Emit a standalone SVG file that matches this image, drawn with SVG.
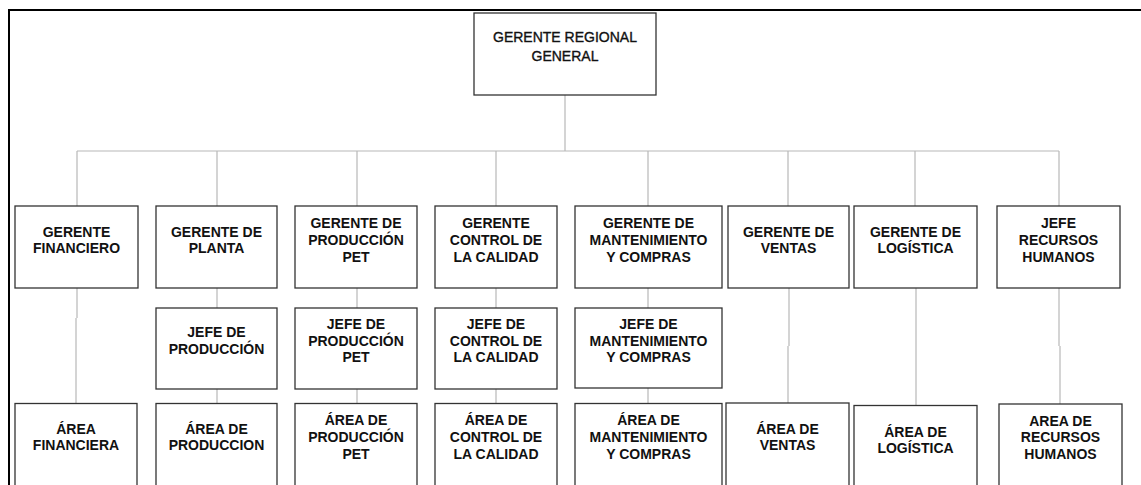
<svg xmlns="http://www.w3.org/2000/svg" width="1141" height="485" viewBox="0 0 1141 485">
<style>
.bg{fill:#ffffff}
.frame{fill:none;stroke:#000;stroke-width:2}
.box{fill:#ffffff;stroke:#333;stroke-width:1.3}
.con{fill:none;stroke:#b8b8b8;stroke-width:1.2}
.t{font-family:"Liberation Sans",Arial,sans-serif;font-size:14px;font-weight:bold;fill:#111;text-anchor:middle}
.top{font-weight:normal;stroke:#111;stroke-width:0.35}
</style>
<rect class="bg" x="0" y="0" width="1141" height="485"/>
<path class="frame" d="M9,485 V10 H1141"/>

<g id="connectors">
  <path class="con" d="M565,95 V151"/>
  <path class="con" d="M77,151 H1059"/>
  <path class="con" d="M77,151 V206 M217,151 V206 M357,151 V206 M496,151 V206 M648,151 V206 M788,151 V206 M915,151 V206 M1059,151 V206"/>
  <path class="con" d="M77,288 V318 M76,318 V403.5"/>
  <path class="con" d="M217,288 V308 M217,389 V403.5"/>
  <path class="con" d="M357,288 V308 M357,389 V403.5"/>
  <path class="con" d="M496,288 V308 M496,389 V403.5"/>
  <path class="con" d="M648,288 V308 M648,388 V403.5"/>
  <path class="con" d="M789,288 V346 M788,346 V403"/>
  <path class="con" d="M916,288 V405.5"/>
  <path class="con" d="M1059,288 V346 M1060,346 V404"/>
</g>

<g id="n-gerente-regional">
  <rect class="box" x="474" y="13" width="182" height="82"/>
  <text class="t top" x="565" y="41.5">GERENTE REGIONAL</text>
  <text class="t top" x="565" y="60.5">GENERAL</text>
</g>

<g id="n-gerente-financiero">
  <rect class="box" x="15" y="206" width="123" height="82"/>
  <text class="t" x="76.5" y="236.6">GERENTE</text>
  <text class="t" x="76.5" y="253.3">FINANCIERO</text>
</g>
<g id="n-gerente-planta">
  <rect class="box" x="156" y="206" width="121" height="82"/>
  <text class="t" x="216.5" y="236.6">GERENTE DE</text>
  <text class="t" x="216.5" y="253.3">PLANTA</text>
</g>
<g id="n-gerente-produccion-pet">
  <rect class="box" x="295" y="206" width="122" height="82"/>
  <text class="t" x="356" y="228.3">GERENTE DE</text>
  <text class="t" x="356" y="245">PRODUCCIÓN</text>
  <text class="t" x="356" y="261.7">PET</text>
</g>
<g id="n-gerente-control-calidad">
  <rect class="box" x="435" y="206" width="122" height="82"/>
  <text class="t" x="496" y="228.3">GERENTE</text>
  <text class="t" x="496" y="245">CONTROL DE</text>
  <text class="t" x="496" y="261.7">LA CALIDAD</text>
</g>
<g id="n-gerente-mantenimiento">
  <rect class="box" x="575" y="206" width="147" height="82"/>
  <text class="t" x="648.5" y="228.3">GERENTE DE</text>
  <text class="t" x="648.5" y="245">MANTENIMIENTO</text>
  <text class="t" x="648.5" y="261.7">Y COMPRAS</text>
</g>
<g id="n-gerente-ventas">
  <rect class="box" x="728" y="206" width="121" height="82"/>
  <text class="t" x="788.5" y="236.6">GERENTE DE</text>
  <text class="t" x="788.5" y="253.3">VENTAS</text>
</g>
<g id="n-gerente-logistica">
  <rect class="box" x="854" y="206" width="123" height="82"/>
  <text class="t" x="915.5" y="236.6">GERENTE DE</text>
  <text class="t" x="915.5" y="253.3">LOGÍSTICA</text>
</g>
<g id="n-jefe-rrhh">
  <rect class="box" x="997" y="206" width="123" height="82"/>
  <text class="t" x="1058.5" y="228.3">JEFE</text>
  <text class="t" x="1058.5" y="245">RECURSOS</text>
  <text class="t" x="1058.5" y="261.7">HUMANOS</text>
</g>

<g id="n-jefe-produccion">
  <rect class="box" x="156" y="308" width="121" height="81"/>
  <text class="t" x="216.5" y="337.2">JEFE DE</text>
  <text class="t" x="216.5" y="353.8">PRODUCCIÓN</text>
</g>
<g id="n-jefe-produccion-pet">
  <rect class="box" x="295" y="308" width="122" height="81"/>
  <text class="t" x="356" y="328.8">JEFE DE</text>
  <text class="t" x="356" y="345.5">PRODUCCIÓN</text>
  <text class="t" x="356" y="362.2">PET</text>
</g>
<g id="n-jefe-control-calidad">
  <rect class="box" x="435" y="308" width="122" height="81"/>
  <text class="t" x="496" y="328.8">JEFE DE</text>
  <text class="t" x="496" y="345.5">CONTROL DE</text>
  <text class="t" x="496" y="362.2">LA CALIDAD</text>
</g>
<g id="n-jefe-mantenimiento">
  <rect class="box" x="575" y="308" width="147" height="80"/>
  <text class="t" x="648.5" y="328.8">JEFE DE</text>
  <text class="t" x="648.5" y="345.5">MANTENIMIENTO</text>
  <text class="t" x="648.5" y="362.2">Y COMPRAS</text>
</g>

<g id="n-area-financiera">
  <rect class="box" x="15" y="403.5" width="122" height="90"/>
  <text class="t" x="76" y="433.7">ÁREA</text>
  <text class="t" x="76" y="450.3">FINANCIERA</text>
</g>
<g id="n-area-produccion">
  <rect class="box" x="156" y="403.5" width="121" height="90"/>
  <text class="t" x="216.5" y="433.7">ÁREA DE</text>
  <text class="t" x="216.5" y="450.3">PRODUCCION</text>
</g>
<g id="n-area-produccion-pet">
  <rect class="box" x="295" y="403.5" width="122" height="90"/>
  <text class="t" x="356" y="425.3">ÁREA DE</text>
  <text class="t" x="356" y="442">PRODUCCIÓN</text>
  <text class="t" x="356" y="458.7">PET</text>
</g>
<g id="n-area-control-calidad">
  <rect class="box" x="435" y="403.5" width="122" height="90"/>
  <text class="t" x="496" y="425.3">ÁREA DE</text>
  <text class="t" x="496" y="442">CONTROL DE</text>
  <text class="t" x="496" y="458.7">LA CALIDAD</text>
</g>
<g id="n-area-mantenimiento">
  <rect class="box" x="575" y="403.5" width="147" height="90"/>
  <text class="t" x="648.5" y="425.3">ÁREA DE</text>
  <text class="t" x="648.5" y="442">MANTENIMIENTO</text>
  <text class="t" x="648.5" y="458.7">Y COMPRAS</text>
</g>
<g id="n-area-ventas">
  <rect class="box" x="726" y="403" width="123" height="90"/>
  <text class="t" x="787.5" y="433.5">ÁREA DE</text>
  <text class="t" x="787.5" y="450.2">VENTAS</text>
</g>
<g id="n-area-logistica">
  <rect class="box" x="854" y="405.5" width="123" height="90"/>
  <text class="t" x="915.5" y="436.7">ÁREA DE</text>
  <text class="t" x="915.5" y="453.4">LOGÍSTICA</text>
</g>
<g id="n-area-rrhh">
  <rect class="box" x="999" y="404" width="123" height="90"/>
  <text class="t" x="1060.5" y="425.5">AREA DE</text>
  <text class="t" x="1060.5" y="442.2">RECURSOS</text>
  <text class="t" x="1060.5" y="458.9">HUMANOS</text>
</g>
</svg>
